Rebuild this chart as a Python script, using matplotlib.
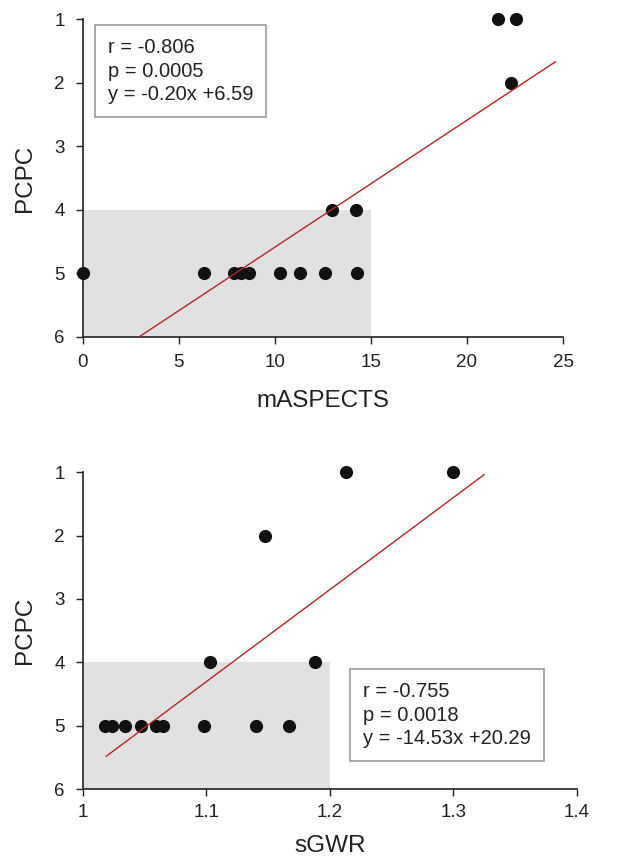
import matplotlib
matplotlib.use("Agg")
import matplotlib.pyplot as plt
from matplotlib.patches import Rectangle

plt.rcParams['font.family'] = ['Liberation Sans', 'DejaVu Sans']

# Top panel data: mASPECTS vs PCPC
masp_x = [21.6, 22.55, 22.3, 13.0, 14.25, 0.0, 6.3, 7.85, 8.25, 8.65, 10.25, 11.3, 12.6, 14.3]
masp_y = [1, 1, 2, 4, 4, 5, 5, 5, 5, 5, 5, 5, 5, 5]
masp_fit = (-0.20, 6.59)
masp_fit_x = [2.95, 24.6]
masp_text = "r = -0.806\np = 0.0005\ny = -0.20x +6.59"
masp_ticks = [0, 5, 10, 15, 20, 25]

# Bottom panel data: sGWR vs PCPC
sgwr_x = [1.213, 1.300, 1.148, 1.103, 1.188, 1.018, 1.024, 1.034, 1.047, 1.059, 1.065, 1.098, 1.140, 1.167]
sgwr_y = [1, 1, 2, 4, 4, 5, 5, 5, 5, 5, 5, 5, 5, 5]
sgwr_fit = (-14.53, 20.29)
sgwr_fit_x = [1.019, 1.325]
sgwr_text = "r = -0.755\np = 0.0018\ny = -14.53x +20.29"
sgwr_ticks = [1, 1.1, 1.2, 1.3, 1.4]
sgwr_ticklabels = ["1", "1.1", "1.2", "1.3", "1.4"]

y_ticks = [1, 2, 3, 4, 5, 6]

W, H = 622, 863
fig = plt.figure(figsize=(W / 100, H / 100), dpi=100)

def make_ax(l, r, t, b):
    return fig.add_axes([l / W, 1 - b / H, (r - l) / W, (b - t) / H])

ax1 = make_ax(82.7, 563, 19.3, 336.7)
ax2 = make_ax(82.7, 576.7, 472.3, 789)

def style(ax, xlim, xticks, xlabels, xlabel, xs, ys, fit, fitx, rect, text, tpos,
          xpad, xlabelpad):
    ax.set_xlim(*xlim)
    ax.set_ylim(6, 1)
    ax.add_patch(Rectangle((rect[0], 4), rect[1] - rect[0], 2, facecolor='#e1e1e1',
                           edgecolor='none', zorder=0))
    ax.scatter(xs, ys, s=90, color='#111111', zorder=3, clip_on=False, linewidths=0)
    a, b = fit
    ax.plot(fitx, [a * x + b for x in fitx], color='#b0262a', lw=1.0, zorder=4)
    ax.set_xticks(xticks)
    ax.set_xticklabels(xlabels)
    ax.set_yticks(y_ticks)
    ax.tick_params(direction='out', length=5, width=1, labelsize=13.5, colors='#222222')
    ax.tick_params(axis='x', pad=xpad)
    ax.tick_params(axis='y', pad=8)
    for s in ['top', 'right']:
        ax.spines[s].set_visible(False)
    for s in ['left', 'bottom']:
        ax.spines[s].set_linewidth(1.2)
        ax.spines[s].set_color('#222222')
    ax.set_xlabel(xlabel, fontsize=17.5, labelpad=xlabelpad, color='#222222')
    ax.set_ylabel('PCPC', fontsize=17.5, labelpad=13, color='#222222')
    ax.text(tpos[0], tpos[1], text, transform=ax.transAxes, fontsize=14.5,
            va='top', ha='left', linespacing=1.3, color='#222222',
            bbox=dict(boxstyle='square,pad=0.65', facecolor='white', edgecolor='#999999', lw=1.2))

style(ax1, (0, 25), masp_ticks, [str(t) for t in masp_ticks], 'mASPECTS',
      masp_x, masp_y, masp_fit, masp_fit_x, (0, 15), masp_text, (0.052, 0.94), 7.5, 13.5)
style(ax2, (1, 1.4), sgwr_ticks, sgwr_ticklabels, 'sGWR',
      sgwr_x, sgwr_y, sgwr_fit, sgwr_fit_x, (1, 1.2), sgwr_text, (0.568, 0.337), 6, 10)

fig.savefig('out.png', dpi=100)
